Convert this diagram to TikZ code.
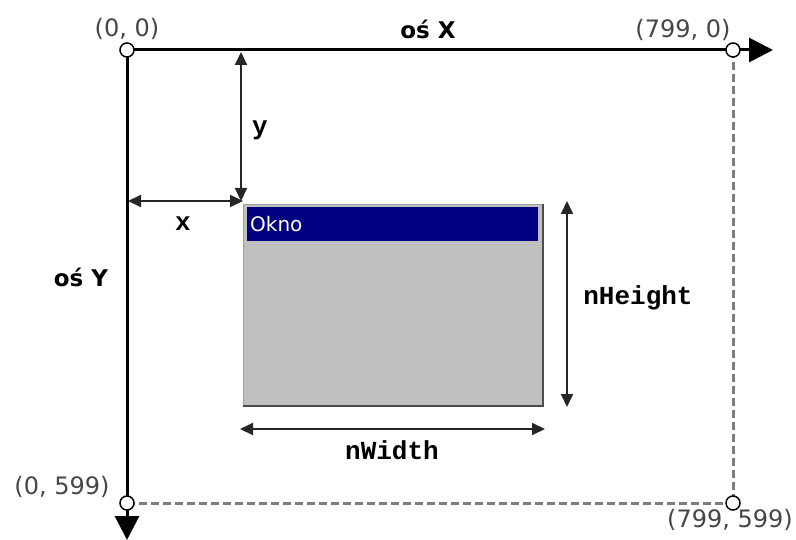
\documentclass[tikz,border=0pt]{standalone}
\usepackage{fontspec}
\setmainfont{DejaVu Sans}
\newfontfamily\monob{Liberation Mono}
\usetikzlibrary{arrows.meta}
\definecolor{navy}{RGB}{0,0,128}
\definecolor{wgray}{RGB}{192,192,192}
\definecolor{lblgray}{RGB}{70,70,70}
\definecolor{dashgray}{RGB}{125,125,125}
\tikzset{
  axisline/.style={line width=3pt, black},
  axistip/.style={-{Triangle[length=24pt,width=24pt]}},
  dimline/.style={line width=2pt, black!85, {Triangle[length=13pt,width=12pt]}-{Triangle[length=13pt,width=12pt]}},
  dashln/.style={line width=3pt, dashgray, dash pattern=on 8pt off 4pt},
  pt/.style={circle, draw=black, fill=white, line width=1.5pt, minimum size=14pt, inner sep=0pt},
  coordlbl/.style={text=lblgray, font=\fontsize{24}{24}\selectfont, inner sep=0pt},
  axislbl/.style={font=\fontsize{23}{23}\selectfont\bfseries, inner sep=0pt},
  monolbl/.style={font=\fontsize{26}{26}\selectfont\monob\bfseries, inner sep=0pt},
}
\begin{document}
\begin{tikzpicture}[x=1pt,y=-1pt]
\useasboundingbox (0,0) rectangle (796,540);
% window
\node[draw=gray!75, line width=1pt, fill=wgray, minimum width=299pt, minimum height=201pt, inner sep=0pt, anchor=north west] (win) at (243,204) {};
\draw[gray!60!black, line width=1.8pt] (win.north east) -- (win.south east) -- (win.south west);
\node[fill=navy, minimum width=291pt, minimum height=34pt, inner sep=0pt, anchor=north west] (title) at (247,207) {};
\node[text=white, font=\fontsize{20}{20}\selectfont, anchor=west, inner sep=0pt] (okno) at (250,224) {Okno};
% coordinates
\coordinate (o) at (127,50);
\coordinate (xr) at (733,50);
\coordinate (yb) at (127,503);
\coordinate (br) at (733,503);
\coordinate (xtip) at (773,50);
\coordinate (ytip) at (127,540);
% dashed border
\draw[dashln] (xr) -- (br);
\draw[dashln] (yb) -- (br);
% axes
\draw[axisline, axistip] (o) -- (xtip);
\draw[axisline, axistip] (o) -- (ytip);
% points
\node[pt] (p00) at (o) {};
\node[pt] (p790) at (xr) {};
\node[pt] (p0599) at (yb) {};
\node[pt] (p799599) at (br) {};
% labels
\node[coordlbl] (l00) at (127,29) {(0, 0)};
\node[coordlbl] (l7990) at (683,30) {(799, 0)};
\node[coordlbl] (l0599) at (62,487) {(0, 599)};
\node[coordlbl] (l799599) at (730,520) {(799, 599)};
\node[axislbl] (osx) at (428,29) {oś X};
\node[axislbl] (osy) at (81,277) {oś Y};
% dimension arrows
\coordinate (ya) at (241,52);
\coordinate (yb2) at (241,201);
\coordinate (xa) at (128,201);
\coordinate (xb) at (243,201);
\draw[dimline] (ya) -- (yb2);
\draw[dimline] (xa) -- (xb);
\node[monolbl] (ylbl) at (260,130) {y};
\node[monolbl] (xlbl) at (183,224) {x};
\coordinate (ha) at (567,201);
\coordinate (hb) at (567,407);
\draw[dimline] (ha) -- (hb);
\node[monolbl] (hlbl) at (638,298) {nHeight};
\coordinate (wa) at (240,429);
\coordinate (wb) at (545,429);
\draw[dimline] (wa) -- (wb);
\node[monolbl] (wlbl) at (392,450) {nWidth};
\end{tikzpicture}
\end{document}
